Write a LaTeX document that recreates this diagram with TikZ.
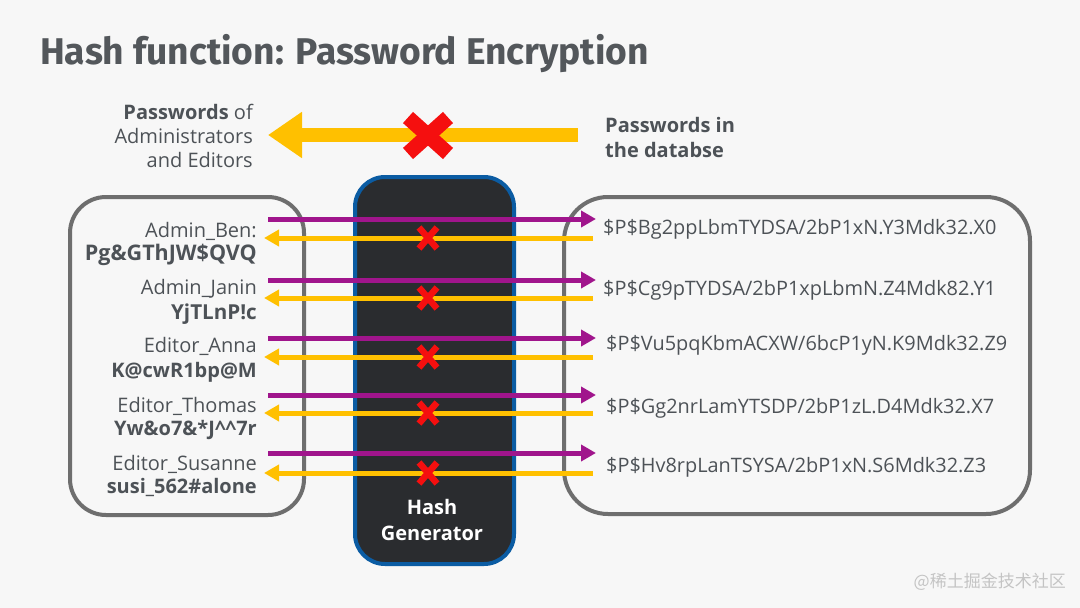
\documentclass[tikz,border=0pt]{standalone}
\usepackage{fontspec}
\setmainfont{Open Sans}
\newfontfamily\titlefont{Fira Sans}
\newfontfamily\cjk{Noto Sans CJK SC}
\usetikzlibrary{arrows.meta}
\definecolor{bg}{HTML}{F7F7F7}
\definecolor{txt}{HTML}{4D5257}
\definecolor{titlec}{HTML}{53575B}
\definecolor{boxgray}{HTML}{6E6E6E}
\definecolor{hashfill}{HTML}{2A2C2F}
\definecolor{hashblue}{HTML}{0B5CA3}
\definecolor{purp}{HTML}{A0158C}
\definecolor{yell}{HTML}{FFC000}
\definecolor{xred}{HTML}{F50F0F}
\definecolor{wm}{HTML}{C4C4C4}
\tikzset{
  lbl/.style={font=\fontsize{20}{24}\selectfont, text=txt, inner sep=0pt},
  lblb/.style={lbl, font=\fontsize{20}{24}\selectfont\bfseries},
  hashtxt/.style={font=\fontsize{19.9}{24}\selectfont, text=txt, inner sep=0pt, anchor=base west},
  userbox/.style={draw=boxgray, line width=4pt, rounded corners=36pt},
  fwd/.style={purp, line width=5pt, -{Triangle[length=15pt,width=16pt]}},
  bwd/.style={yell, line width=5pt, -{Triangle[length=15pt,width=16pt]}},
  xmark/.style={xred, line width=6.5pt},
}
\begin{document}
\begin{tikzpicture}[x=1pt,y=-1pt]
\fill[bg] (0,0) rectangle (1080,608);
\useasboundingbox (0,0) rectangle (1080,608);

% title
\node[anchor=base west, inner sep=0pt, text=titlec, font=\titlefont\fontsize{37.2}{40}\selectfont\bfseries] (title) at (40,64) {Hash function: Password Encryption};

% top legend
\node[lbl, anchor=base east] (t1) at (253,119) {\textbf{Passwords} of};
\node[lbl, anchor=base east] (t2) at (253,143) {Administrators};
\node[lbl, anchor=base east] (t3) at (253,167) {and Editors};
\node[lblb, anchor=base west] (t4) at (605,132) {Passwords in};
\node[lblb, anchor=base west] (t5) at (605,157) {the databse};
\coordinate (bigstart) at (578,135);
\coordinate (bigend) at (268,135);
\draw[yell, line width=14pt, -{Triangle[length=34pt,width=44pt]}] (bigstart) -- (bigend);
\coordinate (bigx) at (428,135.5);
\draw[xred, line width=15pt] ([shift={(-20,-18)}]bigx) -- ([shift={(20,18)}]bigx);
\draw[xred, line width=15pt] ([shift={(20,-18)}]bigx) -- ([shift={(-20,18)}]bigx);

% boxes
\node[userbox, minimum width=234pt, minimum height=318pt, anchor=north west, inner sep=0pt] (left) at (68,195) {};
\node[userbox, rounded corners=44pt, minimum width=466pt, minimum height=317pt, anchor=north west, inner sep=0pt] (right) at (562,195) {};
\node[draw=hashblue, fill=hashfill, line width=4pt, rounded corners=30pt, minimum width=159pt, minimum height=387pt, anchor=north west, inner sep=0pt] (hash) at (353,175) {};
\node[font=\fontsize{20}{24}\selectfont\bfseries, text=white, inner sep=0pt, anchor=base] (h1) at (432,514) {Hash};
\node[font=\fontsize{20}{24}\selectfont\bfseries, text=white, inner sep=0pt, anchor=base] (h2) at (432,540) {Generator};

% left labels
\node[lbl, anchor=base east] (u1) at (257,237) {Admin\_Ben:};
\node[lblb, anchor=base east, font=\fontsize{21.5}{26}\selectfont\bfseries] (p1) at (257,260.5) {Pg\&GThJW\$QVQ};
\node[lbl, anchor=base east] (u2) at (257,294) {Admin\_Janin};
\node[lblb, anchor=base east, font=\fontsize{20.6}{24}\selectfont\bfseries] (p2) at (257,319) {YjTLnP!c};
\node[lbl, anchor=base east] (u3) at (257,352) {Editor\_Anna};
\node[lblb, anchor=base east] (p3) at (257,377) {K@cwR1bp@M};
\node[lbl, anchor=base east] (u4) at (257,412) {Editor\_Thomas};
\node[lblb, anchor=base east] (p4) at (257,435) {Yw\&o7\&*J\^{}\^{}7r};
\node[lbl, anchor=base east] (u5) at (257,470) {Editor\_Susanne};
\node[lblb, anchor=base east] (p5) at (257,493) {susi\_562\#alone};

% right hashes
\node[hashtxt] (r1) at (603,234) {\$P\$Bg2ppLbmTYDSA/2bP1xN.Y3Mdk32.X0};
\node[hashtxt] (r2) at (603,295) {\$P\$Cg9pTYDSA/2bP1xpLbmN.Z4Mdk82.Y1};
\node[hashtxt] (r3) at (606,350) {\$P\$Vu5pqKbmACXW/6bcP1yN.K9Mdk32.Z9};
\node[hashtxt] (r4) at (606,413) {\$P\$Gg2nrLamYTSDP/2bP1zL.D4Mdk32.X7};
\node[hashtxt] (r5) at (606,472) {\$P\$Hv8rpLanTSYSA/2bP1xN.S6Mdk32.Z3};

% connectors
\foreach \i/\yp/\yy in {1/219/238, 2/280/298, 3/338/357, 4/395/413, 5/453/473}{
  \coordinate (ps\i) at (268,\yp);
  \coordinate (pe\i) at (596,\yp);
  \coordinate (ys\i) at (593,\yy);
  \coordinate (ye\i) at (264,\yy);
  \coordinate (x\i) at (428,\yy);
  \draw[fwd] (ps\i) -- (pe\i);
  \draw[bwd] (ys\i) -- (ye\i);
  \draw[xmark] ([shift={(-9,-10.5)}]x\i) -- ([shift={(9,10.5)}]x\i);
  \draw[xmark] ([shift={(9,-10.5)}]x\i) -- ([shift={(-9,10.5)}]x\i);
}

% watermark
\node[anchor=base east, inner sep=0pt, text=wm, font=\cjk\fontsize{17}{20}\selectfont] (wmark) at (1066,587) {@稀土掘金技术社区};
\end{tikzpicture}
\end{document}
